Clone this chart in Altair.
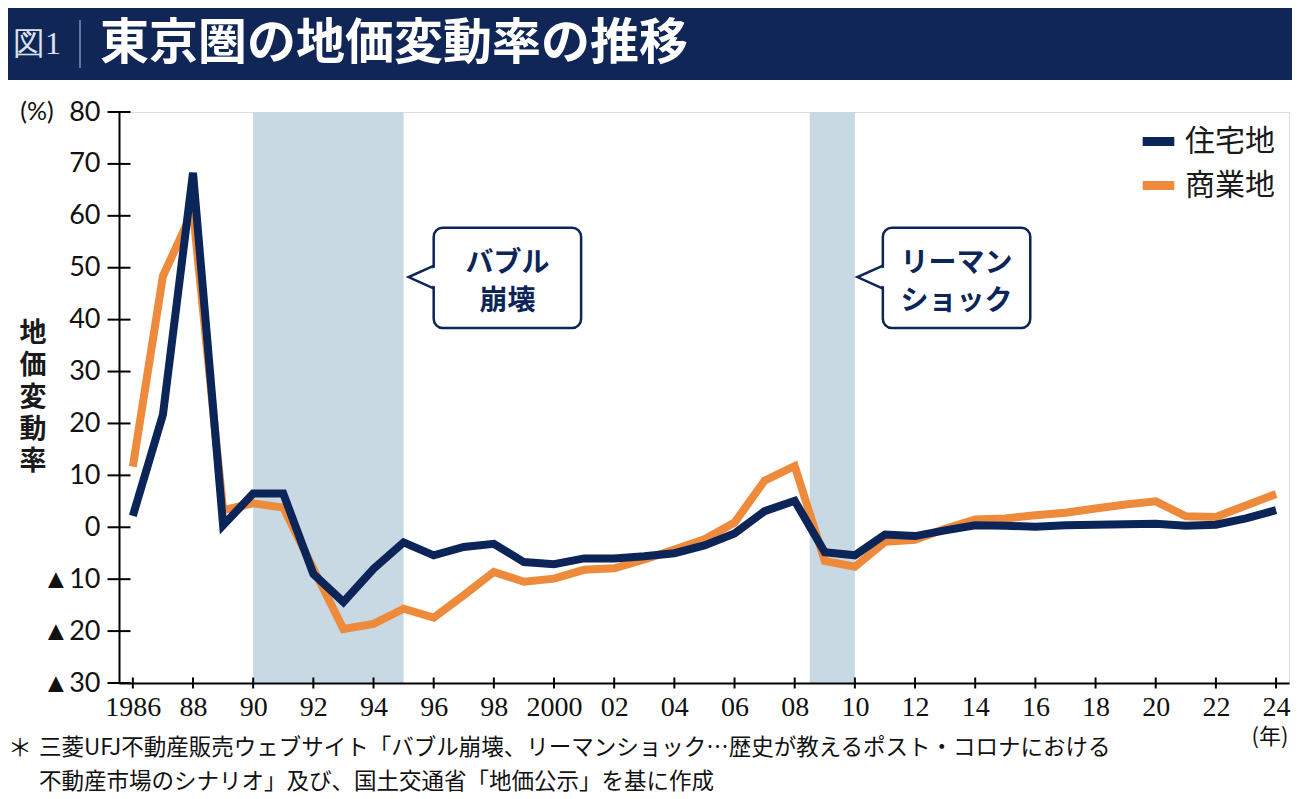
import altair as alt
import pandas as pd

# ---------------- data ----------------
YEARS = list(range(1986, 2025))
RESIDENTIAL = [2.2, 21.7, 68.3, 0.4, 6.5, 6.5, -9.0, -14.4, -8.0, -2.9,
               -5.4, -3.8, -3.2, -6.7, -7.1, -6.0, -6.0, -5.6, -5.0, -3.5,
               -1.2, 3.1, 5.1, -4.8, -5.4, -1.4, -1.7, -0.6, 0.4, 0.3,
               0.1, 0.4, 0.5, 0.6, 0.7, 0.3, 0.5, 1.7, 3.3]
COMMERCIAL = [11.7, 48.4, 61.0, 3.3, 4.6, 3.8, -8.0, -19.6, -18.6, -15.7,
              -17.4, -13.1, -8.6, -10.5, -9.9, -8.2, -7.9, -6.2, -4.3, -2.3,
              0.9, 9.0, 11.8, -6.5, -7.6, -2.8, -2.4, -0.3, 1.5, 1.7,
              2.3, 2.8, 3.6, 4.4, 5.0, 2.1, 2.0, 4.2, 6.4]
SERIES = ["住宅地", "商業地"]

SHADE_START = [1990.0, 2008.5]
SHADE_END = [1995.0, 2010.0]

CALLOUT_TEXT = ["バブル\n崩壊", "リーマン\nショック"]
CALLOUT_X0 = [1996.0, 2010.93]
CALLOUT_X1 = [2000.9, 2015.83]
CALLOUT_YLO = [38.4, 38.4]
CALLOUT_YHI = [57.7, 57.7]
POINTER_X = [1995.58, 2010.5]
POINTER_Y = [48.2, 48.2]

X_TICKS = list(range(1986, 2025, 2))
Y_TICKS = [-30, -20, -10, 0, 10, 20, 30, 40, 50, 60, 70, 80]

TITLE = "東京圏の地価変動率の推移"
FIG_NO = "図1"
Y_TITLE = ["地", "価", "変", "動", "率"]
NOTE_1 = "三菱UFJ不動産販売ウェブサイト「バブル崩壊、リーマンショック…歴史が教えるポスト・コロナにおける"
NOTE_2 = "不動産市場のシナリオ」及び、国土交通省「地価公示」を基に作成"

# ---------------- style ----------------
NAVY = "#0b2559"
ORANGE = "#ee8a3c"
SHADE = "#c9d9e4"
HEADER = "#0f2656"
JP = "Noto Sans CJK JP"
W, H = 1170, 571
PL, PT, PR, PB = 111, 104, 3, 112

rows = []
for y, r, c in zip(YEARS, RESIDENTIAL, COMMERCIAL):
    rows.append({"year": y, "value": r, "series": SERIES[0]})
    rows.append({"year": y, "value": c, "series": SERIES[1]})
df = pd.DataFrame(rows)

xscale = alt.Scale(domain=[1985.54, 2024.43], nice=False, zero=False)
yscale = alt.Scale(domain=[-30, 80], nice=False, zero=False)
cscale = alt.Scale(domain=SERIES, range=[NAVY, ORANGE])

legend = alt.Legend(title=None, orient="none", legendX=1019, legendY=9,
                    symbolType="stroke", symbolStrokeWidth=9, symbolSize=1000,
                    labelFont=JP, labelFontSize=30, labelColor="#1a1a1a",
                    rowPadding=5, labelOffset=6, padding=0, symbolOpacity=1)

xaxis = alt.Axis(values=X_TICKS, title=None, grid=False, ticks=False,
                 domainColor="black", domainWidth=2, zindex=1,
                 labelExpr="datum.value == 1986 || datum.value == 2000 ? '' + datum.value : ((datum.value % 100) < 10 ? '0' + (datum.value % 100) : '' + (datum.value % 100))",
                 labelFont="Liberation Sans Narrow", labelFontSize=28, labelColor="#111",
                 labelPadding=10, labelFlush=False, labelOverlap=False, labelBound=False)
yaxis = alt.Axis(values=Y_TICKS, title=None, grid=False, ticks=False,
                 domainColor="black", domainWidth=2, zindex=1,
                 labelExpr="datum.value < 0 ? '▲' + (-datum.value) : '' + datum.value",
                 labelFont="Lato", labelFontSize=27, labelColor="#111",
                 labelPadding=19, labelFlush=False, labelOverlap=False, labelBound=False)

shade_df = pd.DataFrame({"s": SHADE_START, "e": SHADE_END})
shade = alt.Chart(shade_df).mark_rect(color=SHADE).encode(
    x=alt.X("s:Q", scale=xscale, axis=xaxis),
    x2="e:Q",
    y=alt.value(0), y2=alt.value(H),
)

base = alt.Chart(df)
line_c = base.transform_filter(alt.datum.series == SERIES[1]).mark_line(
    strokeWidth=8, strokeCap="butt").encode(
    x=alt.X("year:Q", scale=xscale),
    y=alt.Y("value:Q", scale=yscale, axis=yaxis),
    color=alt.Color("series:N", scale=cscale, legend=legend),
)
line_r = base.transform_filter(alt.datum.series == SERIES[0]).mark_line(
    strokeWidth=8, strokeCap="butt").encode(
    x=alt.X("year:Q", scale=xscale),
    y=alt.Y("value:Q", scale=yscale),
    color=alt.Color("series:N", scale=cscale, legend=legend),
)

xt = alt.Chart(pd.DataFrame({"t": X_TICKS})).mark_tick(
    orient="vertical", size=11, thickness=2, color="black", opacity=1).encode(
    x=alt.X("t:Q", scale=xscale), y=alt.value(H))
yt = alt.Chart(pd.DataFrame({"t": Y_TICKS})).mark_tick(
    orient="horizontal", size=23, thickness=2, color="black", opacity=1).encode(
    y=alt.Y("t:Q", scale=yscale), x=alt.value(0))

cdf = pd.DataFrame({"label": CALLOUT_TEXT, "x0": CALLOUT_X0, "x1": CALLOUT_X1,
                    "ylo": CALLOUT_YLO, "yhi": CALLOUT_YHI,
                    "px": POINTER_X, "py": POINTER_Y})
cbase = alt.Chart(cdf)
boxes = cbase.mark_rect(fill="white", stroke=NAVY, strokeWidth=2.5, cornerRadius=9).encode(
    x=alt.X("x0:Q", scale=xscale), x2="x1:Q",
    y=alt.Y("yhi:Q", scale=yscale), y2="ylo:Q")
ptr_fill = cbase.mark_point(shape="M1.25,-0.8L-1,0L1.25,0.8Z", size=625, filled=True,
                            fill="white", opacity=1, strokeWidth=0).encode(
    x=alt.X("px:Q", scale=xscale), y=alt.Y("py:Q", scale=yscale))
ptr_line = cbase.mark_point(shape="M1,-0.9L-1,0L1,0.9", size=625, filled=False,
                            stroke=NAVY, strokeWidth=2.5, opacity=1,
                            strokeJoin="miter").encode(
    x=alt.X("px:Q", scale=xscale), y=alt.Y("py:Q", scale=yscale))
ctext = cbase.transform_calculate(cx="(datum.x0 + datum.x1) / 2",
                                  cy="(datum.ylo + datum.yhi) / 2").mark_text(
    lineBreak="\n", font=JP, fontSize=28, fontWeight="bold", color=NAVY,
    lineHeight=38, align="center", baseline="middle", dy=-14).encode(
    x=alt.X("cx:Q", scale=xscale), y=alt.Y("cy:Q", scale=yscale), text="label:N")

one = alt.Data(values=[{"k": 0}])
header = alt.Chart(one).mark_rect(color=HEADER).encode(
    x=alt.value(-PL), x2=alt.value(W + PR), y=alt.value(-PT), y2=alt.value(-32))
sep = alt.Chart(one).mark_rule(color="#8391b0", strokeWidth=1.5).encode(
    x=alt.value(-39), y=alt.value(-92), y2=alt.value(-44))
fig = alt.Chart(one).mark_text(font="Liberation Serif", fontSize=32, color="#dde2ee",
                               align="center", baseline="middle").encode(
    x=alt.value(-82), y=alt.value(-68), text=alt.value(FIG_NO))
title = alt.Chart(one).mark_text(font=JP, fontSize=49, fontWeight="bold", color="white",
                                 align="left", baseline="middle").encode(
    x=alt.value(-19), y=alt.value(-68), text=alt.value(TITLE))
pct = alt.Chart(one).mark_text(font="Lato", fontSize=25, color="#111",
                               align="center", baseline="middle").encode(
    x=alt.value(-82), y=alt.value(0), text=alt.value("(%)"))
ytitle = alt.Chart(one).mark_text(font=JP, fontSize=27, fontWeight="bold", color="#1a1a1a",
                                  align="center", baseline="top", lineHeight=32).encode(
    x=alt.value(-86), y=alt.value(209), text=alt.value(Y_TITLE))
nen = alt.Chart(one).mark_text(font=JP, fontSize=22, color="#111",
                               align="center", baseline="middle").encode(
    x=alt.value(1151), y=alt.value(625), text=alt.value("(年)"))
star = alt.Chart(one).mark_text(font=JP, fontSize=24, color="#111",
                                align="center", baseline="middle").encode(
    x=alt.value(-99), y=alt.value(637), text=alt.value("＊"))
note1 = alt.Chart(one).mark_text(font=JP, fontSize=22.5, color="#111",
                                 align="left", baseline="middle").encode(
    x=alt.value(-80), y=alt.value(636), text=alt.value(NOTE_1))
note2 = alt.Chart(one).mark_text(font=JP, fontSize=22.5, color="#111",
                                 align="left", baseline="middle").encode(
    x=alt.value(-80), y=alt.value(670), text=alt.value(NOTE_2))

chart = alt.layer(
    header, sep, fig, title,
    shade, line_c, line_r, boxes, ptr_fill, ptr_line, ctext,
    xt, yt, pct, ytitle, nen, star, note1, note2,
).properties(
    width=W, height=H,
    autosize=alt.AutoSizeParams(type="none"),
    padding={"left": PL, "top": PT, "right": PR, "bottom": PB},
).configure_view(stroke=None).configure(background="white")

chart.save("out.html", embed_options={"renderer": "svg", "actions": False})
